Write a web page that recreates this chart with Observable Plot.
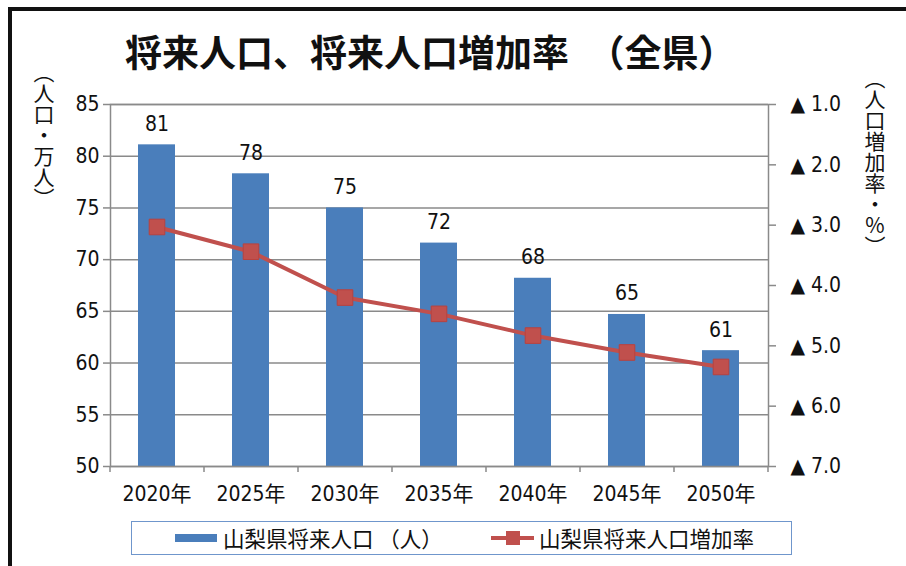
<!DOCTYPE html>
<html>
<head>
<meta charset="utf-8">
<script src="https://cdn.jsdelivr.net/npm/d3@7"></script>
<script src="https://cdn.jsdelivr.net/npm/@observablehq/plot@0.6"></script>
<style>
  html, body { margin: 0; padding: 0; background: #fff; }
  #wrap { position: relative; width: 906px; height: 566px; overflow: hidden; background: #fff; }
  #wrap > svg.chart { position: absolute; left: 0; top: 0; }
  .cjk { font-family: "Noto Sans CJK JP", "Noto Sans", sans-serif; color: #111; }
  #border { position: absolute; left: 8px; top: 7px; width: 1000px; height: 700px;
            border-left: 4px solid #111; border-top: 4px solid #111; pointer-events: none; }
  #title { position: absolute; left: 125px; top: 26px; font-size: 37px; font-weight: 700;
           line-height: 50px; white-space: nowrap; }
  .vlabel { position: absolute; writing-mode: vertical-rl; font-size: 21px; line-height: 21px;
            white-space: nowrap; }
  .up { text-orientation: upright; }
  #legend { position: absolute; left: 131px; top: 521px; width: 659px; height: 32px;
            border: 1.5px solid #6f96cc; }
  .lgItem { position: absolute; top: 0; height: 32px; display: flex; align-items: center;
            font-size: 21.5px; line-height: 24px; white-space: nowrap; }
  .lgItem svg { display: block; }
</style>
</head>
<body>
<div id="wrap">
  <div id="border"></div>
  <div id="title" class="cjk">将来人口、将来人口増加率　（全県）</div>
  <div class="vlabel cjk" style="left:33px; top:62px;">（人口・万人）</div>
  <div class="vlabel cjk" style="left:864px; top:68px;">（人口増加率・<span class="up">%</span>）</div>
  <div id="legend">
    <div class="lgItem cjk" style="left:43px;">
      <svg width="44" height="12" style="margin-right:4px"><rect x="0" y="2" width="42" height="8" fill="#4a7ebb"/></svg>
      <span>山梨県将来人口 （人）</span>
    </div>
    <div class="lgItem cjk" style="left:358px;">
      <svg width="46" height="16" style="margin-right:3px"><line x1="1" y1="8" x2="44" y2="8" stroke="#c0504d" stroke-width="4"/><rect x="16" y="1" width="14" height="14" fill="#c0504d"/></svg>
      <span>山梨県将来人口増加率</span>
    </div>
  </div>
</div>
<script>
// ---- data ----
const years = ["2020年", "2025年", "2030年", "2035年", "2040年", "2045年", "2050年"];
const population = [81.1, 78.3, 75.0, 71.6, 68.2, 64.7, 61.2];       // 万人
const populationLabels = [81, 78, 75, 72, 68, 65, 61];
const growthRate = [-3.03, -3.44, -4.20, -4.47, -4.83, -5.11, -5.35]; // %
const leftTicks = [50, 55, 60, 65, 70, 75, 80, 85];
const rightTicks = [-1, -2, -3, -4, -5, -6, -7];

// right axis (▲1.0 at top … ▲7.0 at bottom) mapped onto the left axis range
const yMin = 50, yMax = 85, rTop = -1, rBottom = -7;
const rateToY = r => yMin + (r - rBottom) * (yMax - yMin) / (rTop - rBottom);
const yToRate = y => rBottom + (y - yMin) * (rTop - rBottom) / (yMax - yMin);

const data = years.map((year, i) => ({
  year, pop: population[i], label: String(populationLabels[i]), rate: growthRate[i]
}));

const numFont = '"Liberation Sans Narrow", "Arial Narrow", "DejaVu Sans Condensed", "Noto Sans CJK JP", sans-serif';
const gray = "#8a8a8a";

const chart = Plot.plot({
  width: 906,
  height: 566,
  marginLeft: 110,
  marginRight: 138,
  marginTop: 104,
  marginBottom: 100,
  className: "chart",
  style: { fontFamily: numFont, fontSize: "21px", color: "#111", background: "transparent" },
  x: { type: "band", domain: years, paddingInner: 0.606, paddingOuter: 0.303, label: null },
  y: { domain: [yMin, yMax], label: null },
  marks: [
    Plot.ruleY(leftTicks, { stroke: gray, strokeWidth: 1.5 }),
    Plot.barY(data, { x: "year", y1: yMin, y2: "pop", fill: "#4a7ebb" }),
    Plot.frame({ stroke: gray, strokeWidth: 1.5 }),
    Plot.line(data, { x: "year", y: d => rateToY(d.rate), stroke: "#c0504d", strokeWidth: 4 }),
    Plot.dot(data, { x: "year", y: d => rateToY(d.rate), symbol: "square", r: 8.8,
                     fill: "#c0504d", stroke: "#b8423f", strokeWidth: 1 }),
    Plot.text(data, { x: "year", y: "pop", text: "label", dy: -14, lineAnchor: "bottom",
                      fontSize: 21, fill: "#111" }),
    Plot.axisY({ anchor: "left", ticks: leftTicks, tickSize: 7, tickPadding: 4,
                 stroke: gray, strokeWidth: 1.5, label: null, fontSize: 21 }),
    Plot.axisY({ anchor: "right", ticks: rightTicks.map(rateToY), tickSize: 7, tickPadding: 15,
                 stroke: gray, strokeWidth: 1.5, label: null, fontSize: 21,
                 tickFormat: y => "▲ " + Math.abs(yToRate(y)).toFixed(1) }),
    Plot.axisX({ tickSize: 0, tickPadding: 20, label: null, fontSize: 21 }),
    Plot.axisX({ tickSize: 6, tickFormat: () => "", dx: -47, stroke: gray, strokeWidth: 1.5, label: null }),
    Plot.axisX({ ticks: [years[years.length - 1]], tickSize: 6, tickFormat: () => "", dx: 47,
                 stroke: gray, strokeWidth: 1.5, label: null })
  ]
});
chart.classList.add("chart");
document.getElementById("wrap").insertBefore(chart, document.getElementById("wrap").firstChild);
</script>
</body>
</html>
